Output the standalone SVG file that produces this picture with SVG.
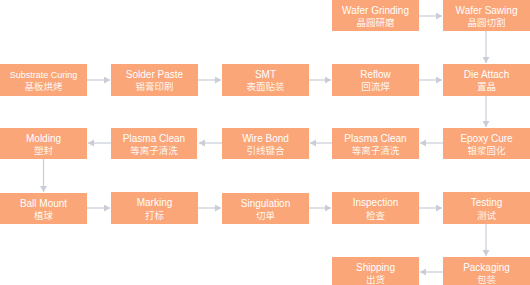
<svg xmlns="http://www.w3.org/2000/svg" width="530" height="285" viewBox="0 0 530 285">
<defs>
<style>
.box{fill:#FAA678;}
.en{font-family:"Liberation Sans","Noto Sans CJK SC",sans-serif;font-size:10px;fill:#FFFFFF;text-anchor:middle;}
.zh{font-family:"Noto Sans CJK SC",sans-serif;font-size:9.5px;fill:#FFFFFF;fill-opacity:0.92;text-anchor:middle;}
.c{stroke:#C9CDD8;stroke-width:1.2;fill:none;marker-end:url(#ah);}
</style>
<marker id="ah" markerUnits="userSpaceOnUse" markerWidth="8" markerHeight="8" refX="6" refY="3.5" orient="auto">
<path d="M0,0 L6,3.5 L0,7 Z" fill="#C9CDD8"/>
</marker>
</defs>
<rect width="530" height="285" fill="#FFFFFF"/>
<g id="connectors">
<line class="c" x1="419" y1="16" x2="442" y2="16"/>
<line class="c" x1="486" y1="31" x2="486" y2="63"/>
<line class="c" x1="87" y1="80" x2="110" y2="80"/>
<line class="c" x1="198" y1="80" x2="221" y2="80"/>
<line class="c" x1="309" y1="80" x2="331" y2="80"/>
<line class="c" x1="419" y1="80" x2="442" y2="80"/>
<line class="c" x1="486" y1="96" x2="486" y2="127"/>
<line class="c" x1="443" y1="143" x2="420" y2="143"/>
<line class="c" x1="332" y1="143" x2="310" y2="143"/>
<line class="c" x1="222" y1="143" x2="199" y2="143"/>
<line class="c" x1="111" y1="143" x2="88" y2="143"/>
<line class="c" x1="43.5" y1="159" x2="43.5" y2="192"/>
<line class="c" x1="87" y1="208" x2="110" y2="208"/>
<line class="c" x1="198" y1="208" x2="221" y2="208"/>
<line class="c" x1="309" y1="208" x2="331" y2="208"/>
<line class="c" x1="419" y1="208" x2="442" y2="208"/>
<line class="c" x1="486" y1="224" x2="486" y2="256"/>
<line class="c" x1="443" y1="272" x2="420" y2="272"/>
</g>
<g id="wafer-grinding"><rect class="box" x="332" y="0" width="87" height="31"/><text class="en" x="375.5" y="13.5">Wafer Grinding</text><text class="zh" x="375.5" y="26">晶圆研磨</text></g>
<g id="wafer-sawing"><rect class="box" x="443" y="0" width="87" height="31"/><text class="en" x="486.5" y="13.5">Wafer Sawing</text><text class="zh" x="486.5" y="26">晶圆切割</text></g>
<g id="substrate-curing"><rect class="box" x="0" y="64" width="87" height="32"/><text class="en" x="43.5" y="77.5" style="font-size:9px">Substrate Curing</text><text class="zh" x="43.5" y="90">基板烘烤</text></g>
<g id="solder-paste"><rect class="box" x="111" y="64" width="87" height="32"/><text class="en" x="154.5" y="77.5">Solder Paste</text><text class="zh" x="154.5" y="90">锡膏印刷</text></g>
<g id="smt"><rect class="box" x="222" y="64" width="87" height="32"/><text class="en" x="265.5" y="77.5">SMT</text><text class="zh" x="265.5" y="90">表面贴装</text></g>
<g id="reflow"><rect class="box" x="332" y="64" width="87" height="32"/><text class="en" x="375.5" y="77.5">Reflow</text><text class="zh" x="375.5" y="90">回流焊</text></g>
<g id="die-attach"><rect class="box" x="443" y="64" width="87" height="32"/><text class="en" x="486.5" y="77.5">Die Attach</text><text class="zh" x="486.5" y="90">置晶</text></g>
<g id="molding"><rect class="box" x="0" y="128" width="87" height="31"/><text class="en" x="43.5" y="141.5">Molding</text><text class="zh" x="43.5" y="154">塑封</text></g>
<g id="plasma-clean-1"><rect class="box" x="111" y="128" width="86" height="31"/><text class="en" x="154" y="141.5">Plasma Clean</text><text class="zh" x="154" y="154">等离子清洗</text></g>
<g id="wire-bond"><rect class="box" x="222" y="128" width="87" height="31"/><text class="en" x="265.5" y="141.5">Wire Bond</text><text class="zh" x="265.5" y="154">引线键合</text></g>
<g id="plasma-clean-2"><rect class="box" x="332" y="128" width="87" height="31"/><text class="en" x="375.5" y="141.5">Plasma Clean</text><text class="zh" x="375.5" y="154">等离子清洗</text></g>
<g id="epoxy-cure"><rect class="box" x="443" y="128" width="87" height="31"/><text class="en" x="486.5" y="141.5">Epoxy Cure</text><text class="zh" x="486.5" y="154">银浆固化</text></g>
<g id="ball-mount"><rect class="box" x="0" y="193" width="87" height="31"/><text class="en" x="43.5" y="206.5">Ball Mount</text><text class="zh" x="43.5" y="219">植球</text></g>
<g id="marking"><rect class="box" x="111" y="192" width="87" height="32"/><text class="en" x="154.5" y="206">Marking</text><text class="zh" x="154.5" y="218.5">打标</text></g>
<g id="singulation"><rect class="box" x="222" y="193" width="87" height="31"/><text class="en" x="265.5" y="206.5">Singulation</text><text class="zh" x="265.5" y="219">切单</text></g>
<g id="inspection"><rect class="box" x="332" y="192" width="87" height="32"/><text class="en" x="375.5" y="206">Inspection</text><text class="zh" x="375.5" y="218.5">检查</text></g>
<g id="testing"><rect class="box" x="443" y="192" width="87" height="32"/><text class="en" x="486.5" y="206">Testing</text><text class="zh" x="486.5" y="218.5">测试</text></g>
<g id="shipping"><rect class="box" x="332" y="257" width="87" height="32"/><text class="en" x="375.5" y="270.5">Shipping</text><text class="zh" x="375.5" y="283">出货</text></g>
<g id="packaging"><rect class="box" x="443" y="257" width="87" height="32"/><text class="en" x="486.5" y="270.5">Packaging</text><text class="zh" x="486.5" y="283">包装</text></g>
</svg>
